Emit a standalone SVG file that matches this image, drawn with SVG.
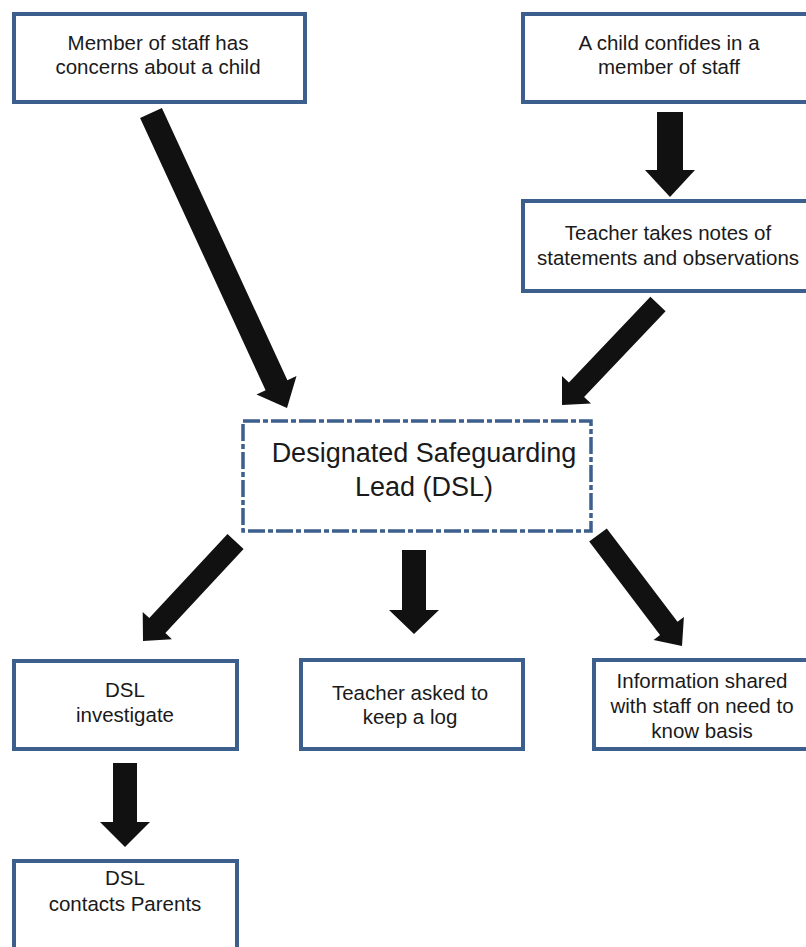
<svg xmlns="http://www.w3.org/2000/svg" width="806" height="947" viewBox="0 0 806 947">
<style>
.box{fill:#fff;stroke:#3d5f8e;stroke-width:4}
.dsl{fill:#fff;stroke:#3d5f8e;stroke-width:3.5;stroke-dasharray:17 3 5 3}
.t{font-family:"Liberation Sans",Arial,sans-serif;font-size:20.5px;fill:#1a1a1a;text-anchor:middle}
.big{font-size:27px}
.arrow{fill:#111}
</style>
<rect width="806" height="947" fill="#fff"/>
<g id="connectors">
<polygon class="arrow" points="140.1,118 265.6,390.3 256.5,394.5 287,408 296.5,376.1 287.4,380.3 161.9,108"/>
<polygon class="arrow" points="657,112 683,112 683,170 695,170 670,197 645,170 657,170"/>
<polygon class="arrow" points="650.4,296.8 568.9,382.6 562,376 562,405 591,403.6 584.1,397 665.6,311.2"/>
<polygon class="arrow" points="227.5,534 149.3,618.1 142.7,612 143,641 171.9,639.3 165.4,633.1 243.6,549"/>
<polygon class="arrow" points="402,550 426,550 426,610 439,610 414,634 389,610 402,610"/>
<polygon class="arrow" points="589.2,541.6 660,635.1 653.6,639.9 682,646 683.9,617 677.5,621.8 606.8,528.4"/>
<polygon class="arrow" points="113,763 137,763 137,822 150,822 125,847 100,822 113,822"/>
</g>
<g id="n-staff-concerns">
<rect class="box" x="14" y="14" width="291" height="88"/>
<text class="t" x="158" y="50">Member of staff has</text>
<text class="t" x="158" y="74">concerns about a child</text>
</g>
<g id="n-child-confides">
<rect class="box" x="523" y="14" width="300" height="88"/>
<text class="t" x="669" y="50">A child confides in a</text>
<text class="t" x="669" y="74">member of staff</text>
</g>
<g id="n-teacher-notes">
<rect class="box" x="523" y="201" width="300" height="90"/>
<text class="t" x="668" y="240">Teacher takes notes of</text>
<text class="t" x="668" y="265">statements and observations</text>
</g>
<g id="n-dsl">
<rect class="dsl" x="243" y="421" width="348" height="110"/>
<text class="t big" x="424" y="462">Designated Safeguarding</text>
<text class="t big" x="424" y="496">Lead (DSL)</text>
</g>
<g id="n-investigate">
<rect class="box" x="14" y="661" width="223" height="88"/>
<text class="t" x="125" y="697">DSL</text>
<text class="t" x="125" y="722">investigate</text>
</g>
<g id="n-log">
<rect class="box" x="301" y="660" width="222" height="89"/>
<text class="t" x="410" y="700">Teacher asked to</text>
<text class="t" x="410" y="724">keep a log</text>
</g>
<g id="n-info">
<rect class="box" x="594" y="660" width="230" height="89"/>
<text class="t" x="702" y="688">Information shared</text>
<text class="t" x="702" y="713">with staff on need to</text>
<text class="t" x="702" y="738">know basis</text>
</g>
<g id="n-parents">
<rect class="box" x="14" y="861" width="223" height="100"/>
<text class="t" x="125" y="885">DSL</text>
<text class="t" x="125" y="911">contacts Parents</text>
</g>
</svg>
